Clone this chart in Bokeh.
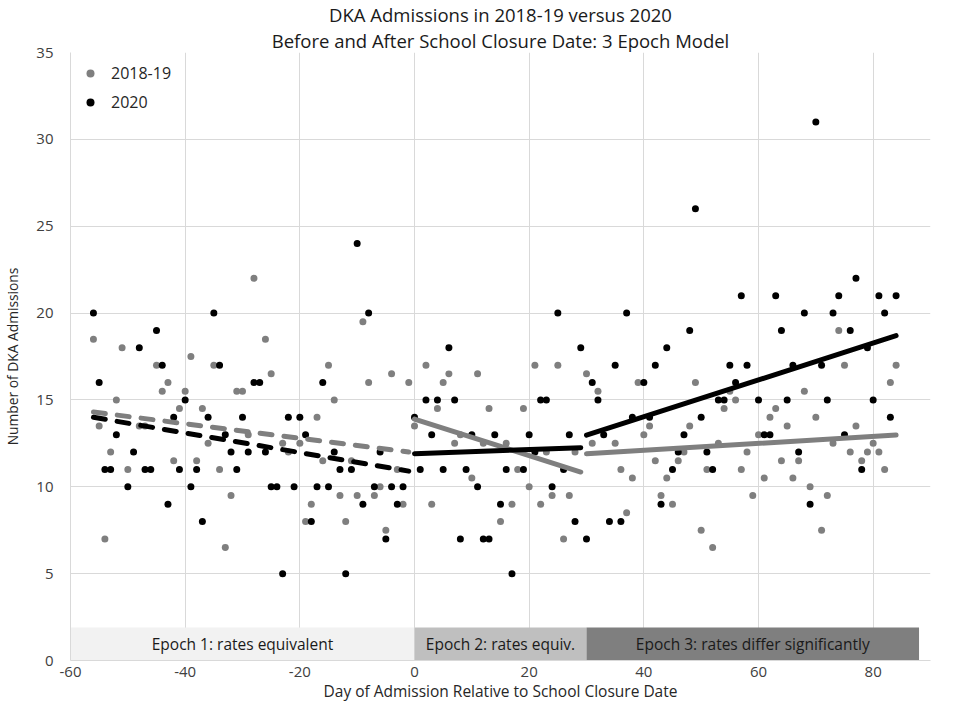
from bokeh.plotting import figure
from bokeh.models import Range1d, FixedTicker, Legend, LegendItem, Title, PrintfTickFormatter
from bokeh.embed import file_html
from bokeh.resources import INLINE
from bokeh.core.properties import value

FONT = "Open Sans"

# ---- data: 2018-19 (average of two years) ----
days_1819 = [-56, -55, -54, -53, -52, -51, -50, -48, -47, -45, -44, -43, -42, -41, -40,
             -39, -38, -37, -36, -35, -34, -33, -32, -31, -30, -29, -28, -26, -25, -23,
             -22, -20, -19, -18, -17, -16, -15, -14, -13, -12, -11, -10, -9, -8, -7,
             -6, -5, -4, -3, -2, -1, 0, 2, 3, 4, 5, 6, 7, 8, 10,
             11, 12, 13, 15, 16, 17, 18, 19, 20, 21, 22, 23, 24, 25, 26,
             27, 28, 30, 31, 32, 35, 36, 37, 38, 39, 40, 41, 42, 43, 44,
             45, 46, 47, 48, 49, 50, 51, 52, 53, 54, 55, 56, 57, 58, 59,
             60, 61, 62, 63, 64, 65, 66, 67, 68, 69, 70, 71, 72, 73, 74,
             75, 76, 77, 78, 79, 80, 81, 82, 83, 84]
adm_1819 = [18.5, 13.5, 7, 12, 15, 18, 11, 13.5, 13.5, 17, 15.5, 16, 11.5, 14.5, 15.5,
            17.5, 11.5, 14.5, 12.5, 17, 11, 6.5, 9.5, 15.5, 15.5, 13, 22, 18.5, 16.5, 12.5,
            12, 12.5, 8, 9, 14, 11.5, 17, 15, 9.5, 8, 11.5, 9.5, 19.5, 16, 9.5,
            10, 7.5, 16.5, 11, 9, 16, 13.5, 17, 9, 14.5, 16, 16.5, 12.5, 13, 10.5,
            16.5, 12.5, 14.5, 8, 12.5, 9, 11, 14.5, 10, 17, 9, 12, 9.5, 17, 7,
            9.5, 12, 16.5, 12.5, 15.5, 12.5, 11, 8.5, 10.5, 16, 13, 13.5, 11.5, 9.5, 10.5,
            9, 11.5, 12, 13.5, 16, 7.5, 11, 6.5, 12.5, 14.5, 15.5, 15, 11, 12, 9.5,
            13, 10.5, 14, 14.5, 11.5, 13.5, 10.5, 11.5, 15.5, 10, 14, 7.5, 9.5, 12.5, 19,
            17, 12, 13.5, 11.5, 12, 12.5, 12, 11, 16, 17]

# ---- data: 2020 ----
days_2020 = [-56, -55, -54, -53, -52, -50, -49, -48, -47, -46, -45, -44, -43, -42, -41,
             -40, -39, -38, -37, -36, -35, -34, -33, -32, -31, -30, -29, -28, -27, -26,
             -25, -24, -23, -22, -21, -20, -19, -18, -17, -16, -15, -14, -13, -12, -11,
             -10, -9, -8, -7, -6, -5, -4, -3, -2, 0, 1, 2, 3, 4, 5,
             6, 7, 8, 9, 10, 11, 12, 13, 14, 15, 16, 17, 19, 20, 21,
             22, 23, 24, 25, 26, 27, 28, 29, 30, 31, 32, 33, 34, 35, 36,
             37, 38, 40, 41, 42, 43, 44, 45, 46, 47, 48, 49, 50, 51, 52,
             53, 54, 55, 56, 57, 58, 60, 61, 62, 63, 64, 65, 66, 67, 68,
             69, 70, 71, 72, 73, 74, 75, 76, 77, 78, 79, 80, 81, 82, 83, 84]
adm_2020 = [20, 16, 11, 11, 13, 10, 12, 18, 11, 11, 19, 17, 9, 14, 11,
            15, 10, 11, 8, 14, 20, 17, 13, 12, 11, 14, 12, 16, 16, 12,
            10, 10, 5, 14, 10, 14, 13, 8, 10, 16, 10, 12, 11, 5, 11,
            24, 9, 20, 10, 12, 7, 10, 9, 10, 14, 11, 15, 13, 15, 11,
            18, 15, 7, 11, 13, 10, 7, 7, 13, 9, 11, 5, 11, 13, 12,
            15, 15, 10, 20, 11, 13, 8, 18, 7, 16, 15, 13, 8, 17, 8,
            20, 14, 16, 14, 17, 9, 18, 11, 12, 13, 19, 26, 14, 12, 11,
            15, 15, 17, 16, 21, 17, 15, 13, 13, 21, 19, 15, 17, 12, 20,
            9, 31, 17, 15, 20, 21, 13, 19, 22, 11, 18, 15, 21, 20, 14, 21]

# ---- fitted epoch trend lines (segment endpoints) ----
ep1_x = [-56, -1]
ep1_1819 = [14.3, 12.0]
ep1_2020 = [14.0, 10.9]
ep2_x = [0, 29]
ep2_1819 = [13.9, 10.85]
ep2_2020 = [11.9, 12.25]
ep3_x = [30, 84]
ep3_1819 = [11.9, 12.98]
ep3_2020 = [12.97, 18.7]

# ---- epoch bands ----
epoch_left = [-60, 0, 30]
epoch_right = [0, 30, 88]
epoch_labels = ["Epoch 1: rates equivalent", "Epoch 2: rates equiv.",
                "Epoch 3: rates differ significantly"]
epoch_colors = ["#f2f2f2", "#bfbfbf", "#7f7f7f"]
band_top = 1.9

x_ticks = [-60, -40, -20, 0, 20, 40, 60, 80]
y_ticks = [0, 5, 10, 15, 20, 25, 30, 35]

title_lines = ["DKA Admissions in 2018-19 versus 2020",
               "Before and After School Closure Date: 3 Epoch Model"]
x_title = "Day of Admission Relative to School Closure Date"
y_title = "Number of DKA Admissions"

GRAY = "#7f7f7f"
GRID = "#d9d9d9"
TXT = "#404040"

p = figure(width=941, height=704, output_backend="svg", toolbar_location=None,
           x_range=Range1d(-60, 90), y_range=Range1d(0, 35),
           min_border_left=0, min_border_right=11, min_border_top=0,
           min_border_bottom=0, title=None)
p.outline_line_color = None
p.background_fill_color = "white"
p.border_fill_color = "white"

for ax in (p.xaxis, p.yaxis):
    ax.axis_line_color = GRID
    ax.major_tick_line_color = None
    ax.minor_tick_line_color = None
    ax.major_tick_out = 0
    ax.major_tick_in = 0
    ax.major_label_text_font = FONT
    ax.major_label_text_font_size = "15px"
    ax.major_label_text_color = TXT
    ax.axis_label_text_font = FONT
    ax.axis_label_text_font_style = "normal"
    ax.axis_label_text_color = "#262626"

p.xaxis.ticker = FixedTicker(ticks=x_ticks)
p.yaxis.ticker = FixedTicker(ticks=y_ticks)
p.xaxis.formatter = PrintfTickFormatter(format="%d")
p.xaxis.axis_label = x_title
p.yaxis.axis_label = y_title
p.xaxis.axis_label_text_font_size = "15.5px"
p.yaxis.axis_label_text_font_size = "13.8px"
p.xaxis.major_label_standoff = 6
p.xaxis.axis_label_standoff = 0
p.yaxis.major_label_standoff = 17
p.yaxis.axis_label_standoff = 11

p.xgrid.grid_line_color = GRID
p.ygrid.grid_line_color = GRID
p.xgrid.ticker = FixedTicker(ticks=x_ticks)
p.ygrid.ticker = FixedTicker(ticks=y_ticks)

# title lines (first added sits nearest the frame)
p.add_layout(Title(text=title_lines[1], align="center", text_font=FONT,
                   text_font_size="18.5px", text_font_style="normal",
                   text_color="#1a1a1a", standoff=-1), "above")
p.add_layout(Title(text=title_lines[0], align="center", text_font=FONT,
                   text_font_size="18.5px", text_font_style="normal",
                   text_color="#1a1a1a", standoff=-1), "above")

# epoch bands
p.quad(left=epoch_left, right=epoch_right, bottom=[0] * 3, top=[band_top] * 3,
       fill_color=epoch_colors, line_color=None)
centers = [(a + b) / 2 for a, b in zip(epoch_left, epoch_right)]
p.text(x=centers, y=[band_top / 2] * 3, text=epoch_labels, text_align="center",
       text_baseline="middle", text_font=value(FONT), text_font_size="15.5px",
       text_color="#1a1a1a")

# points
r_g = p.scatter(days_1819, adm_1819, size=7, fill_color=GRAY, line_color=None)
r_b = p.scatter(days_2020, adm_2020, size=7, fill_color="black", line_color=None)

# trend lines
p.line(ep1_x, ep1_1819, line_color=GRAY, line_width=5, line_dash="12 12", line_cap="round")
p.line(ep1_x, ep1_2020, line_color="black", line_width=5, line_dash="12 12", line_cap="round")
p.line(ep2_x, ep2_1819, line_color=GRAY, line_width=5, line_cap="round")
p.line(ep2_x, ep2_2020, line_color="black", line_width=5, line_cap="round")
p.line(ep3_x, ep3_1819, line_color=GRAY, line_width=5, line_cap="round")
p.line(ep3_x, ep3_2020, line_color="black", line_width=5, line_cap="round")

legend = Legend(items=[LegendItem(label="2018-19", renderers=[r_g]),
                       LegendItem(label="2020", renderers=[r_b])],
                location="top_left", border_line_alpha=0, background_fill_alpha=0,
                margin=0, padding=10, spacing=7, label_standoff=11,
                label_text_font=FONT, label_text_font_size="16px",
                label_text_color="#262626", glyph_width=20, glyph_height=20,
                label_height=20)
p.add_layout(legend)

open("out.html", "w").write(file_html(p, INLINE))
